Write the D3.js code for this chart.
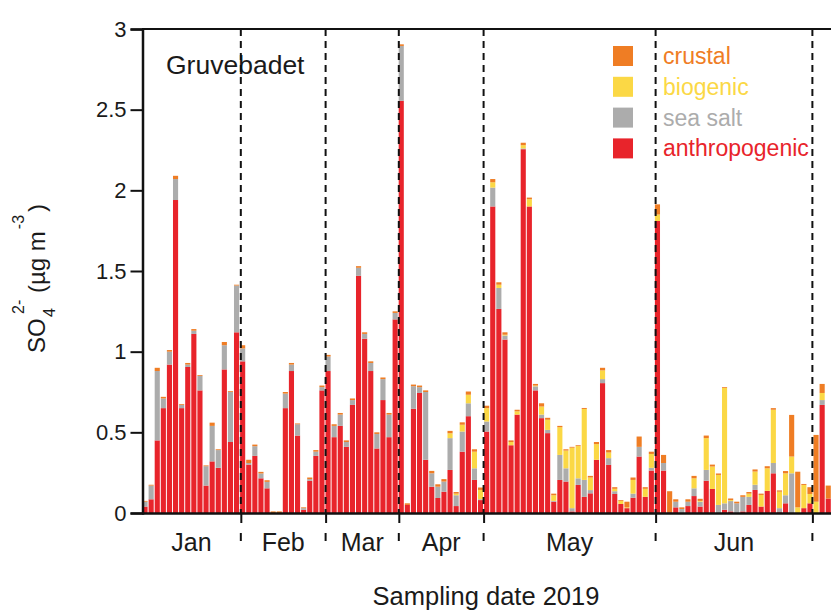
<!DOCTYPE html>
<html>
<head>
<meta charset="utf-8">
<script src="https://cdn.jsdelivr.net/npm/d3@7"></script>
<style>
  body { margin: 0; background: #fff; }
  svg { display: block; font-family: "Liberation Sans", Arial, Helvetica, sans-serif; }
</style>
</head>
<body>
<svg id="chart" width="831" height="610"></svg>
<script>
// Sulfate source apportionment per sample, Gruvebadet 2019 (µg m-3)
const anthropogenic = [
  0.04, 0.085, 0.45, 0.65, 0.92, 1.94, 0.65, 0.905, 1.11, 0.76, 0.17, 0.32, 0.28, 0.89, 0.44, 1.12,
  0.94, 0.30, 0.354, 0.215, 0.153, 0, 0, 0.65, 0.88, 0.48, 0.02, 0.20, 0.354, 0.76,
  0.88, 0.47, 0.54, 0.41, 0.67, 1.47, 1.08, 0.88, 0.40, 0.70, 0.47, 1.20,
  2.555, 0.05, 0.646, 0.744, 0.33, 0.163, 0.093, 0.132, 0.267, 0.043, 0.38, 0.60, 0.205, 0.08,
  0.505, 1.90, 1.265, 1.075, 0.42, 0.61, 2.255, 1.90, 0.76, 0.588, 0.495, 0.07, 0.205, 0.195,
  0.01, 0.174, 0.10, 0.122, 0.33, 0.805, 0.298, 0.118, 0.056, 0.03, 0.095, 0.35, 0.10, 0.263,
  1.81, 0.263, 0.005, 0.035, 0, 0.043, 0.105, 0.04, 0.2, 0.149, 0, 0.02, 0.01, 0, 0.01, 0.05,
  0.143, 0.04, 0.137, 0.246, 0.005, 0.06, 0, 0, 0.03, 0.06,
  0, 0.67, 0.09
];
const seaSalt = [
  0.03, 0.085, 0.43, 0.06, 0.08, 0.13, 0.02, 0.015, 0.02, 0.09, 0.12, 0.22, 0.11, 0.15, 0.31, 0.29,
  0.08, 0.01, 0.06, 0.03, 0.04, 0, 0, 0.09, 0.04, 0.07, 0.01, 0.01, 0.026, 0.02,
  0.09, 0.07, 0.07, 0.03, 0.03, 0.05, 0.03, 0.05, 0.09, 0.13, 0.14, 0.04,
  0.34, 0, 0.14, 0.036, 0.42, 0.083, 0.07, 0.063, 0.197, 0.067, 0.125, 0.08, 0.072, 0.005,
  0.062, 0.117, 0.13, 0.025, 0, 0, 0.005, 0, 0.025, 0.022, 0.02, 0.005, 0.155, 0.082,
  0.02, 0.041, 0.105, 0.02, 0, 0.025, 0.042, 0.017, 0, 0, 0.025, 0.06, 0, 0.017,
  0, 0.047, 0, 0.035, 0.025, 0.027, 0.048, 0.03, 0.067, 0, 0.05, 0.04, 0.064, 0.06, 0.09, 0.05,
  0.032, 0, 0, 0.064, 0.025, 0.05, 0.246, 0, 0, 0,
  0, 0.03, 0
];
const biogenic = [
  0, 0, 0, 0, 0, 0, 0, 0, 0, 0, 0, 0, 0, 0, 0, 0,
  0, 0, 0, 0, 0, 0, 0, 0, 0, 0, 0, 0, 0, 0,
  0, 0, 0, 0, 0, 0, 0, 0, 0, 0, 0, 0,
  0, 0, 0, 0, 0, 0, 0, 0, 0.03, 0.01, 0.042, 0.053, 0.103, 0.058,
  0.083, 0.033, 0.02, 0.005, 0.02, 0.02, 0.02, 0.045, 0.005, 0.05, 0.063, 0.035, 0.172, 0.11,
  0.375, 0.2, 0.44, 0.078, 0.097, 0.054, 0.035, 0.015, 0.019, 0.005, 0.085, 0, 0.05, 0.086,
  0.04, 0, 0, 0, 0, 0, 0.062, 0.005, 0.197, 0.139, 0.186, 0.715, 0.006, 0, 0, 0.02,
  0.082, 0.072, 0.14, 0.33, 0.102, 0.136, 0.104, 0.035, 0.144, 0.058,
  0.07, 0.044, 0
];
const crustal = [
  0.005, 0.005, 0.02, 0.01, 0.01, 0.02, 0.005, 0.01, 0.01, 0.005, 0.005, 0.02, 0.005, 0.02, 0.005, 0.005,
  0.02, 0.02, 0.01, 0.01, 0.01, 0.01, 0.01, 0.01, 0.01, 0.005, 0.005, 0.01, 0.01, 0.01,
  0.01, 0.01, 0.01, 0.01, 0.01, 0.01, 0.01, 0.01, 0.01, 0.01, 0.01, 0.01,
  0.01, 0.01, 0.01, 0.01, 0.01, 0.015, 0.015, 0.015, 0.015, 0.01, 0.015, 0.02, 0.015, 0.015,
  0.015, 0.02, 0.015, 0.015, 0.01, 0.01, 0.015, 0.01, 0.01, 0.02, 0.012, 0.01, 0.008, 0.008,
  0.005, 0.005, 0.006, 0.01, 0.013, 0.016, 0.015, 0.01, 0.005, 0.035, 0.015, 0.064, 0.01, 0.014,
  0.063, 0.05, 0.13, 0.015, 0.01, 0.015, 0.015, 0.013, 0.016, 0.012, 0.009, 0.005, 0.01, 0.01, 0.01, 0.01,
  0.013, 0.008, 0.013, 0.01, 0.008, 0.014, 0.258, 0.221, 0.006, 0.042,
  0.414, 0.056, 0.08
];

// Months and the sample positions at which each one begins
const monthLabels = ["Jan", "Feb", "Mar", "Apr", "May", "Jun"];
const monthStarts = [0, 16.2, 30.1, 42.1, 56.0, 84.2, 109.9];

const yTicks = [0, 0.5, 1, 1.5, 2, 2.5, 3];
const seriesKeys = ["anthropogenic", "seaSalt", "biogenic", "crustal"];
const seriesNames = { anthropogenic: "anthropogenic", seaSalt: "sea salt", biogenic: "biogenic", crustal: "crustal" };
const seriesColors = { anthropogenic: "#e8242b", seaSalt: "#acacac", biogenic: "#fbd845", crustal: "#ef7d24" };
const legendOrder = ["crustal", "biogenic", "seaSalt", "anthropogenic"];

const svg = d3.select("#chart");
const n = anthropogenic.length;
const step = 6.1;
const x0 = 142;

const x = d3.scaleBand()
  .domain(d3.range(n))
  .range([x0, x0 + n * step])
  .paddingInner(0.16)
  .paddingOuter(0.08);
const pos = d3.scaleLinear().domain([0, n]).range([x0, x0 + n * step]);
const y = d3.scaleLinear().domain([0, 3]).range([513, 29]);

const rows = d3.range(n).map(i => ({
  i,
  anthropogenic: anthropogenic[i],
  seaSalt: seaSalt[i],
  biogenic: biogenic[i],
  crustal: crustal[i]
}));
const stacked = d3.stack().keys(seriesKeys)(rows);

// stacked bars
svg.append("g")
  .selectAll("g")
  .data(stacked)
  .join("g")
  .attr("fill", s => seriesColors[s.key])
  .selectAll("rect")
  .data(s => s)
  .join("rect")
  .attr("x", d => x(d.data.i))
  .attr("width", x.bandwidth())
  .attr("y", d => y(d[1]))
  .attr("height", d => Math.max(0, y(d[0]) - y(d[1])));

// site name
svg.append("text")
  .attr("x", 166)
  .attr("y", 74)
  .attr("font-size", 26.5)
  .attr("fill", "#1a1a1a")
  .text("Gruvebadet");

// month dividers
const edges = monthStarts.slice(1);
svg.append("g")
  .selectAll("line")
  .data(edges)
  .join("line")
  .attr("x1", d => pos(d)).attr("x2", d => pos(d))
  .attr("y1", y(3)).attr("y2", y(0))
  .attr("stroke", "#111")
  .attr("stroke-width", 2)
  .attr("stroke-dasharray", "7,5");

// x axis: baseline with month-boundary ticks
const xAxis = d3.axisBottom(pos)
  .tickValues(edges)
  .tickSize(10)
  .tickSizeOuter(0)
  .tickFormat("");
const gx = svg.append("g").attr("transform", `translate(0,${y(0)})`).call(xAxis);
gx.select(".domain").remove();
gx.selectAll(".tick line").attr("stroke", "#111").attr("stroke-width", 2);
svg.append("line")
  .attr("x1", x0).attr("x2", 831)
  .attr("y1", y(0) + 0.5).attr("y2", y(0) + 0.5)
  .attr("stroke", "#111").attr("stroke-width", 2.5);

svg.append("g")
  .selectAll("line")
  .data(edges)
  .join("line")
  .attr("x1", d => pos(d)).attr("x2", d => pos(d))
  .attr("y1", 533).attr("y2", 541)
  .attr("stroke", "#111")
  .attr("stroke-width", 2);

// month labels centred in their spans
svg.append("g")
  .selectAll("text")
  .data(monthLabels)
  .join("text")
  .attr("x", (d, k) => pos((monthStarts[k] + monthStarts[k + 1]) / 2))
  .attr("y", 551)
  .attr("text-anchor", "middle")
  .attr("font-size", 25)
  .attr("fill", "#1a1a1a")
  .text(d => d);

svg.append("text")
  .attr("x", 486)
  .attr("y", 605)
  .attr("text-anchor", "middle")
  .attr("font-size", 25.5)
  .attr("fill", "#1a1a1a")
  .text("Sampling date 2019");

// top frame
svg.append("line")
  .attr("x1", x0).attr("x2", 831)
  .attr("y1", y(3)).attr("y2", y(3))
  .attr("stroke", "#111").attr("stroke-width", 2);

// y axis
const yAxis = d3.axisLeft(y)
  .tickValues(yTicks)
  .tickSize(12)
  .tickPadding(4)
  .tickFormat(d3.format("~g"));
const gy = svg.append("g").attr("transform", "translate(142.5,0)").call(yAxis);
gy.select(".domain").attr("stroke", "#111").attr("stroke-width", 2.5);
gy.selectAll(".tick line").attr("stroke", "#111").attr("stroke-width", 2);
gy.selectAll(".tick text")
  .attr("font-size", 22)
  .attr("fill", "#1a1a1a")
  .attr("font-family", "\"Liberation Sans\", Arial, sans-serif");

// y axis title: SO4 2- (µg m-3)
const yt = svg.append("text")
  .attr("transform", "translate(45,353) rotate(-90)")
  .attr("font-size", 24)
  .attr("fill", "#1a1a1a");
yt.append("tspan").attr("x", 0).attr("y", 0).text("SO");
yt.append("tspan").attr("x", 36).attr("y", 10).attr("font-size", 16).text("4");
yt.append("tspan").attr("x", 39).attr("y", -21).attr("font-size", 16).text("2-");
yt.append("tspan").attr("x", 60).attr("y", 0).text("(µg m");
yt.append("tspan").attr("dx", 2).attr("dy", -21).attr("font-size", 16).text("-3");
yt.append("tspan").attr("dx", 3).attr("dy", 21).text(")");

// legend
const legend = svg.append("g")
  .selectAll("g")
  .data(legendOrder)
  .join("g")
  .attr("transform", (d, k) => `translate(613,${46 + k * 30.8})`);
legend.append("rect")
  .attr("width", 20).attr("height", 20)
  .attr("fill", d => seriesColors[d]);
legend.append("text")
  .attr("x", 50).attr("y", 18)
  .attr("font-size", 23)
  .attr("fill", d => seriesColors[d])
  .text(d => seriesNames[d]);
</script>
</body>
</html>
